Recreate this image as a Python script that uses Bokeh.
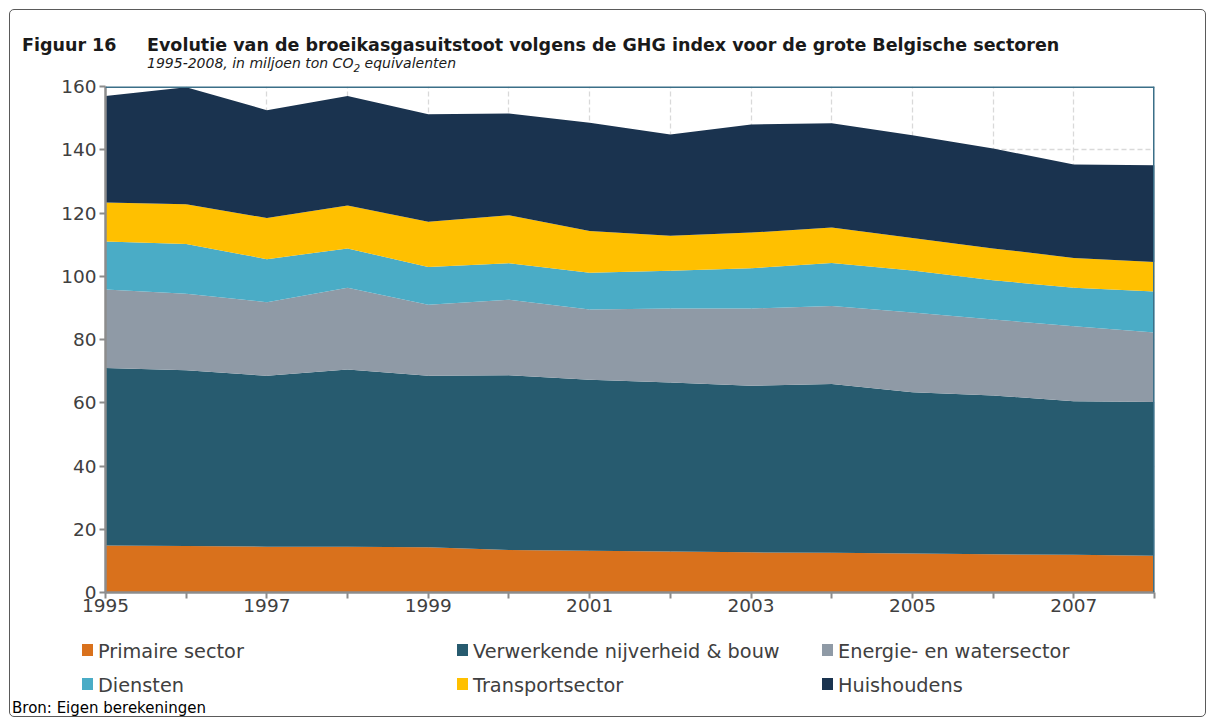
from bokeh.plotting import figure
from bokeh.layouts import column
from bokeh.models import ColumnDataSource, Range1d, FixedTicker, Span, Div
from bokeh.embed import file_html
from bokeh.resources import INLINE

# ---------------- data ----------------
years = [1995, 1996, 1997, 1998, 1999, 2000, 2001, 2002, 2003, 2004, 2005, 2006, 2007, 2008]
sectors = ["Primaire sector", "Verwerkende nijverheid & bouw", "Energie- en watersector",
           "Diensten", "Transportsector", "Huishoudens"]
primaire    = [14.9, 14.7, 14.5, 14.5, 14.3, 13.4, 13.2, 13.0, 12.7, 12.6, 12.3, 12.1, 11.9, 11.6]
verwerkende = [56.1, 55.6, 54.0, 56.0, 54.2, 55.3, 54.1, 53.4, 52.7, 53.3, 51.0, 50.2, 48.6, 48.6]
energie     = [24.8, 24.2, 23.3, 25.9, 22.5, 23.9, 22.2, 23.4, 24.4, 24.7, 25.2, 24.0, 23.7, 22.0]
diensten    = [15.2, 15.7, 13.6, 12.4, 11.9, 11.5, 11.6, 11.9, 12.7, 13.6, 13.3, 12.4, 12.2, 13.0]
transport   = [12.3, 12.6, 13.0, 13.6, 14.3, 15.2, 13.2, 11.1, 11.3, 11.2, 10.3, 10.1, 9.4, 9.3]
huishoudens = [33.7, 37.0, 34.1, 34.6, 34.0, 32.2, 34.2, 32.0, 34.2, 33.0, 32.5, 31.6, 29.5, 30.6]
colors = ["#d9711c", "#275b6f", "#8f9aa6", "#4aacc6", "#ffc000", "#1a334f"]
y_ticks = [0, 20, 40, 60, 80, 100, 120, 140, 160]
x_tick_labels = ["1995", "", "1997", "", "1999", "", "2001", "", "2003", "", "2005", "", "2007", ""]

title_num = "Figuur 16"
title_text = "Evolutie van de broeikasgasuitstoot volgens de GHG index voor de grote Belgische sectoren"
subtitle_html = "1995-2008, in miljoen ton CO<sub style='font-size:0.75em;'>2</sub> equivalenten"
source_text = "Bron: Eigen berekeningen"

# ---------------- layout ----------------
W = 1215
TOP_H = 70          # header block (title + subtitle)
FIG_H = 550         # figure: frame from y=86 to y=592 on the page
BOT_H = 726 - TOP_H - FIG_H
FONT = "DejaVu Sans"

source = ColumnDataSource(dict(zip(["year"] + sectors,
                                   [years, primaire, verwerkende, energie, diensten, transport, huishoudens])))

p = figure(width=W, height=FIG_H, output_backend="svg", toolbar_location=None, title=None,
           x_range=Range1d(years[0], years[-1]), y_range=Range1d(y_ticks[0], y_ticks[-1]),
           min_border_left=105, min_border_right=61, min_border_top=16, min_border_bottom=28,
           margin=0)
p.outline_line_color = None
p.background_fill_color = "white"
p.border_fill_alpha = 0

p.varea_stack(stackers=sectors, x="year", color=colors, source=source)

# grid
for g, t in ((p.xgrid, years), (p.ygrid, y_ticks)):
    g.ticker = FixedTicker(ticks=t)
    g.grid_line_color = "#d9d9d9"
    g.grid_line_dash = "5 3"
    g.grid_line_width = 1.3

# axes
p.yaxis.ticker = FixedTicker(ticks=y_ticks)
p.xaxis.ticker = FixedTicker(ticks=years)
p.xaxis.major_label_overrides = {y: l for y, l in zip(years, x_tick_labels)}
for ax in (p.xaxis[0], p.yaxis[0]):
    ax.axis_line_color = "#8c8c8c"
    ax.axis_line_width = 2.5
    ax.major_tick_line_color = "#8c8c8c"
    ax.major_tick_line_width = 2
    ax.major_tick_out = 6
    ax.major_tick_in = 0
    ax.minor_tick_line_color = None
    ax.major_label_text_font = FONT
    ax.major_label_text_font_size = "18.5px"
    ax.major_label_text_color = "#404040"
p.yaxis.major_label_standoff = 3
p.xaxis.major_label_standoff = 0

# top / right borders of the plot area
p.add_layout(Span(location=y_ticks[-1], dimension="width", line_color="#3b6f88", line_width=3))
p.add_layout(Span(location=years[-1], dimension="height", line_color="#3b6f88", line_width=3))


def span(text, left, top, size, extra=""):
    return (f"<span style=\"position:absolute;left:{left}px;top:{top}px;font-size:{size}px;"
            f"line-height:1;white-space:nowrap;{extra}\">{text}</span>")


base = f"position:relative;width:{W}px;height:{{h}}px;font-family:'{FONT}',sans-serif;"

top_html = (f"<div style=\"{base.format(h=TOP_H)}color:#1a1a1a;\">"
            + span(title_num, 22, 36.5, 17.5, "font-weight:bold;")
            + span(title_text, 147, 36.5, 17.5, "font-weight:bold;")
            + span(subtitle_html, 147, 55.5, 14, "font-style:italic;")
            + "</div>")

leg_x = [82, 457, 822]
leg_top = [24, 58]          # relative to the bottom block (page y 620)
items = ""
for i, (name, col) in enumerate(zip(sectors, colors)):
    x0 = leg_x[i % 3]
    y0 = leg_top[i // 3]
    items += (f"<span style=\"position:absolute;left:{x0}px;top:{y0}px;width:11px;height:12px;"
              f"background:{col};\"></span>")
    items += span(name, x0 + 16, y0 - 2, 19.3, "color:#404040;")
bot_html = (f"<div style=\"{base.format(h=BOT_H)}\">" + items
            + span(source_text, 12, 80.5, 15, "color:#000000;") + "</div>")

top_div = Div(text=top_html, width=W, height=TOP_H, margin=0)
bot_div = Div(text=bot_html, width=W, height=BOT_H, margin=0)

layout = column(top_div, p, bot_div, spacing=0, margin=0,
                styles={"outline": "1.3px solid #5a5a5a", "outline-offset": "-10px",
                        "border-radius": "14px"})

open("out.html", "w").write(file_html(layout, INLINE))
